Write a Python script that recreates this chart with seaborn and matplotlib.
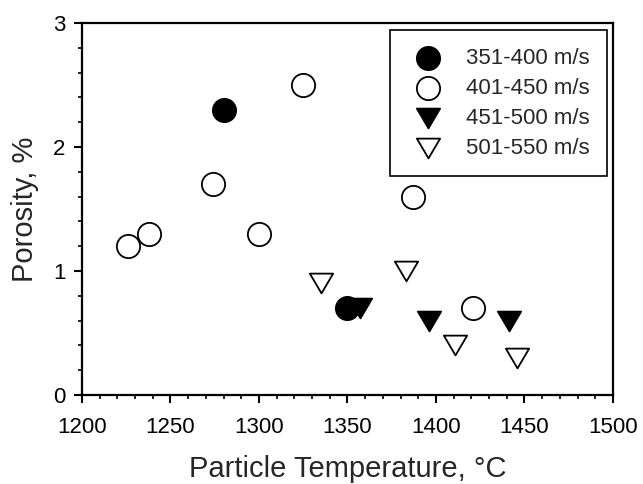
import numpy as np
import pandas as pd
import seaborn as sns
import matplotlib.pyplot as plt
from matplotlib.path import Path
from matplotlib.ticker import MultipleLocator

# values
temp_351_400 = [1280, 1350]
por_351_400 = [2.3, 0.7]
temp_401_450 = [1226, 1238, 1274, 1300, 1325, 1387, 1421]
por_401_450 = [1.2, 1.3, 1.7, 1.3, 2.5, 1.6, 0.7]
temp_451_500 = [1357, 1396, 1441]
por_451_500 = [0.7, 0.6, 0.6]
temp_501_550 = [1335, 1383, 1411, 1446]
por_501_550 = [0.9, 1.0, 0.4, 0.3]

labels = ['351-400 m/s', '401-450 m/s', '451-500 m/s', '501-550 m/s']
temps = [temp_351_400, temp_401_450, temp_451_500, temp_501_550]
pors = [por_351_400, por_401_450, por_451_500, por_501_550]

frames = []
for lab, t, p in zip(labels, temps, pors):
    frames.append(pd.DataFrame({'Temperature': t, 'Porosity': p, 'Velocity': lab}))
df = pd.concat(frames, ignore_index=True)

sns.set_style('ticks')
plt.rcParams['font.family'] = ['Liberation Sans', 'DejaVu Sans']

# down triangle, a bit wider than tall
tri = Path([(-1, 0.85), (1, 0.85), (0, -0.85), (-1, 0.85)],
           [Path.MOVETO, Path.LINETO, Path.LINETO, Path.CLOSEPOLY])
styles = {
    '351-400 m/s': ('o', 'black'),
    '401-450 m/s': ('o', 'white'),
    '451-500 m/s': (tri, 'black'),
    '501-550 m/s': (tri, 'white'),
}

fig = plt.figure(figsize=(6.43, 4.84), dpi=100)
ax = fig.add_axes([0.1275, 0.1839, 0.8258, 0.7686])

for lab in labels:
    sub = df[df['Velocity'] == lab]
    marker, face = styles[lab]
    sns.scatterplot(data=sub, x='Temperature', y='Porosity', marker=marker,
                    color=face, edgecolor='black', linewidth=1.3, s=280,
                    label=lab, ax=ax, zorder=3)

ax.set_xlim(1200, 1500)
ax.set_ylim(0, 3)
ax.xaxis.set_major_locator(MultipleLocator(50))
ax.xaxis.set_minor_locator(MultipleLocator(10))
ax.yaxis.set_major_locator(MultipleLocator(1))
ax.yaxis.set_minor_locator(MultipleLocator(0.2))
ax.tick_params(which='major', direction='out', length=6, width=1.5,
               labelsize=16, color='black', labelcolor='black')
ax.tick_params(axis='x', which='major', pad=10)
ax.tick_params(axis='y', which='major', pad=6)
ax.tick_params(which='minor', direction='out', length=3, width=1.2, color='black')
for sp in ax.spines.values():
    sp.set_visible(True)
    sp.set_linewidth(1.6)
    sp.set_color('black')

ax.set_xlabel('Particle Temperature, °C', fontsize=21, labelpad=12)
ax.set_ylabel('Porosity, %', fontsize=21, labelpad=10)

leg = ax.legend(loc='upper right', bbox_to_anchor=(0.989, 0.981), borderaxespad=0,
                fontsize=16, frameon=True, fancybox=False, scatterpoints=1,
                handletextpad=0.84, labelspacing=0.4, borderpad=0.8,
                handlelength=1.75)
leg.get_frame().set_edgecolor('black')
leg.get_frame().set_linewidth(1.2)
leg.get_frame().set_alpha(1)

fig.savefig('out.png', dpi=100)
